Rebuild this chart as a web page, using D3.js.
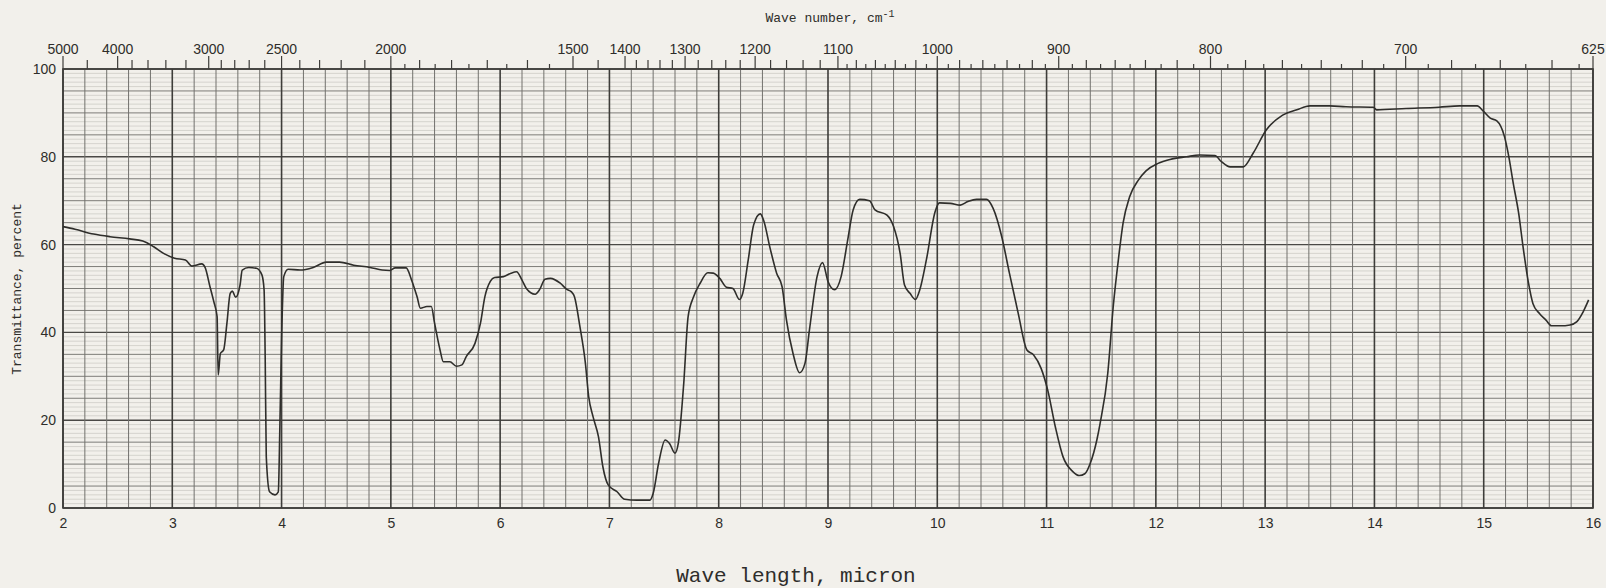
<!DOCTYPE html>
<html>
<head>
<meta charset="utf-8">
<script src="https://cdn.jsdelivr.net/npm/d3@7"></script>
<style>
  html, body { margin: 0; padding: 0; background: #f2f0eb; }
  svg { display: block; }
</style>
</head>
<body>
<svg id="chart" width="1606" height="588"></svg>
<script>
// ---- data ----
const wavelength = [2.00,2.11,2.28,2.43,2.61,2.73,2.83,2.92,3.02,3.12,3.18,3.27,3.30,3.345,3.38,3.41,3.42,3.44,3.47,3.50,3.53,3.55,3.58,3.62,3.64,3.70,3.77,3.82,3.84,3.85,3.86,3.89,3.94,3.97,3.985,4.00,4.02,4.06,4.17,4.29,4.41,4.53,4.66,4.81,4.92,4.99,5.04,5.14,5.19,5.24,5.27,5.33,5.37,5.40,5.45,5.48,5.54,5.60,5.65,5.69,5.77,5.82,5.86,5.91,5.95,6.03,6.10,6.15,6.20,6.24,6.32,6.36,6.41,6.46,6.55,6.61,6.65,6.68,6.73,6.78,6.81,6.85,6.90,6.94,6.99,7.07,7.14,7.25,7.37,7.40,7.45,7.51,7.55,7.60,7.63,7.68,7.72,7.77,7.83,7.90,7.95,8.01,8.07,8.13,8.19,8.22,8.27,8.32,8.38,8.41,8.47,8.53,8.58,8.62,8.68,8.74,8.79,8.83,8.90,8.95,9.00,9.06,9.12,9.18,9.23,9.29,9.38,9.43,9.54,9.60,9.66,9.70,9.75,9.80,9.84,9.90,9.98,10.02,10.12,10.21,10.28,10.36,10.45,10.51,10.59,10.66,10.74,10.82,10.88,10.95,11.01,11.08,11.15,11.24,11.30,11.35,11.40,11.46,11.49,11.56,11.61,11.66,11.70,11.76,11.84,11.91,12.02,12.13,12.28,12.40,12.54,12.60,12.68,12.80,12.89,13.01,13.16,13.29,13.41,13.59,13.74,13.99,14.02,14.29,14.59,14.78,14.94,15.00,15.06,15.12,15.19,15.23,15.27,15.32,15.36,15.41,15.45,15.51,15.57,15.62,15.70,15.79,15.85,15.91,15.96];
const transmittance = [64.1,63.5,62.4,61.8,61.3,60.8,59.5,58.0,56.9,56.5,55.1,55.6,54.8,50.4,47.0,43.6,30.3,35.2,36.0,42.1,48.9,49.4,48.0,50.8,54.2,54.8,54.6,53.1,49.7,34.5,11.7,3.7,3.0,3.7,19.3,38.3,52.7,54.4,54.2,54.8,56.0,56.0,55.3,54.8,54.2,54.1,54.7,54.7,51.9,48.1,45.5,45.9,45.9,42.1,36.0,33.3,33.3,32.3,32.6,34.5,37.5,42.1,48.1,51.6,52.5,52.7,53.5,53.8,51.9,50.0,48.7,49.7,52.1,52.3,51.2,49.8,49.3,48.1,41.3,33.0,25.4,20.8,16.2,9.4,5.2,3.7,2.0,1.8,1.8,3.3,10.2,15.5,14.7,12.5,14.7,28.4,43.6,48.1,51.2,53.6,53.5,52.3,50.3,50.0,47.5,48.9,56.5,64.5,67.0,65.6,59.2,53.5,50.4,42.8,35.2,30.8,33.0,40.5,52.7,55.9,51.6,49.7,52.7,61.0,67.9,70.3,70.0,67.9,66.7,64.1,58.0,50.8,48.9,47.5,49.7,56.5,67.5,69.5,69.4,69.0,69.8,70.3,70.3,68.3,61.8,53.5,44.4,36.0,34.9,31.8,26.9,18.5,11.7,8.3,7.4,7.8,10.2,15.5,19.3,30.7,45.9,57.2,64.9,70.9,74.7,76.8,78.5,79.4,80.0,80.4,80.3,78.9,77.7,77.7,80.8,86.1,89.5,90.7,91.6,91.6,91.4,91.3,90.7,91.0,91.3,91.6,91.6,90.3,88.8,88.2,84.6,80.0,74.0,67.1,59.5,51.2,46.6,44.3,42.8,41.5,41.5,41.7,42.4,44.7,47.4];

const wavelengthTicks = [2,3,4,5,6,7,8,9,10,11,12,13,14,15,16];
const transmittanceTicks = [0,20,40,60,80,100];
const wavenumberLabels = [5000,4000,3000,2500,2000,1500,1400,1300,1200,1100,1000,900,800,700,625];
const wavenumberMedium = [4500,3800,3600,3400,3200,2900,2800,2700,2600,2400,2300,2200,2100,1900,1800,1700,1600,1450,1380,1360,1340,1320,1280,1260,1240,1220,1180,1160,1140,1120,1080,1060,1040,1020,980,960,940,920,880,860,840,820,780,760,740,720,680,660,640];
const wavenumberShort = [1950,1850,1750,1650,1550,1090,1070,1050,1030,1010,990,970,950,930,910,890,870,850,830,810,790,770,750,730,710,690,670,650,630];

// ---- layout ----
const L = 63, R = 1593, T = 69, B = 508;
const svg = d3.select("#chart");
const x = d3.scaleLinear().domain([2, 16]).range([L, R]);
const y = d3.scaleLinear().domain([0, 100]).range([B, T]);
const g = svg.append("g");

// fine horizontal grid (every 1%)
const fineH = d3.range(0, 101, 1).filter(v => v % 5 !== 0);
g.selectAll("line.fh").data(fineH).join("line")
  .attr("x1", L).attr("x2", R)
  .attr("y1", d => y(d)).attr("y2", d => y(d))
  .attr("stroke", "#c9c7c1").attr("stroke-width", 0.7);
// medium horizontal (every 5%)
const midH = d3.range(0, 101, 5).filter(v => v % 20 !== 0);
g.selectAll("line.mh").data(midH).join("line")
  .attr("x1", L).attr("x2", R)
  .attr("y1", d => y(d)).attr("y2", d => y(d))
  .attr("stroke", "#7d7c78").attr("stroke-width", 1);
// major horizontal (every 20%)
g.selectAll("line.Mh").data(d3.range(0, 101, 20)).join("line")
  .attr("x1", L).attr("x2", R)
  .attr("y1", d => y(d)).attr("y2", d => y(d))
  .attr("stroke", "#4a4946").attr("stroke-width", 1.4);
// vertical grid every 0.2 micron
const vLines = d3.range(0, 71).map(i => 2 + i * 0.2);
g.selectAll("line.v").data(vLines).join("line")
  .attr("x1", d => x(d)).attr("x2", d => x(d))
  .attr("y1", T).attr("y2", B)
  .attr("stroke", d => Math.abs(d - Math.round(d)) < 1e-6 ? "#3e3d3a" : "#72716d")
  .attr("stroke-width", d => Math.abs(d - Math.round(d)) < 1e-6 ? 1.6 : 1);
// frame
g.append("rect").attr("x", L).attr("y", T).attr("width", R - L).attr("height", B - T)
  .attr("fill", "none").attr("stroke", "#3e3d3a").attr("stroke-width", 1.6);

// top wavenumber ticks
const wnX = wn => x(1e4 / wn);
const topTicks = [
  ...wavenumberLabels.map(v => ({v, len: 13})),
  ...wavenumberMedium.map(v => ({v, len: 9})),
  ...wavenumberShort.map(v => ({v, len: 5}))
];
g.selectAll("line.tt").data(topTicks).join("line")
  .attr("x1", d => wnX(d.v)).attr("x2", d => wnX(d.v))
  .attr("y1", T).attr("y2", d => T - d.len)
  .attr("stroke", "#3e3d3a").attr("stroke-width", 1.2);
g.selectAll("text.tl").data(wavenumberLabels).join("text")
  .attr("x", d => wnX(d)).attr("y", 54)
  .attr("text-anchor", "middle")
  .attr("font-family", "'Liberation Sans', Arial, sans-serif")
  .attr("font-size", 14).attr("fill", "#2e2d2a")
  .text(d => d);

// bottom axis
const xAxis = d3.axisBottom(x).tickValues(wavelengthTicks).tickSize(0).tickPadding(10).tickFormat(d3.format("d"));
const gx = svg.append("g").attr("transform", `translate(0,${B})`).call(xAxis);
gx.select(".domain").remove();
gx.selectAll("text").attr("font-family", "'Liberation Sans', Arial, sans-serif")
  .attr("font-size", 14).attr("fill", "#2e2d2a");

// left axis
const yAxis = d3.axisLeft(y).tickValues(transmittanceTicks).tickSize(0).tickPadding(7);
const gy = svg.append("g").attr("transform", `translate(${L},0)`).call(yAxis);
gy.select(".domain").remove();
gy.selectAll("text").attr("font-family", "'Liberation Sans', Arial, sans-serif")
  .attr("font-size", 14).attr("fill", "#2e2d2a");

// spectrum curve
const pts = wavelength.map((w, i) => [w, transmittance[i]]);
const line = d3.line().x(d => x(d[0])).y(d => y(d[1])).curve(d3.curveMonotoneX);
svg.append("path").datum(pts).attr("d", line)
  .attr("fill", "none").attr("stroke", "#2f2e2b").attr("stroke-width", 1.6)
  .attr("stroke-linejoin", "round");

// titles
const mono = "'Liberation Mono', 'DejaVu Sans Mono', monospace";
const topTitle = svg.append("text").attr("x", 830).attr("y", 22)
  .attr("text-anchor", "middle").attr("font-family", mono).attr("font-size", 13).attr("fill", "#2e2d2a");
topTitle.append("tspan").text("Wave number, cm");
topTitle.append("tspan").attr("dy", -5).attr("font-size", 10).text("-1");

svg.append("text").attr("transform", "translate(21,289) rotate(-90)")
  .attr("text-anchor", "middle").attr("font-family", mono).attr("font-size", 13).attr("fill", "#2e2d2a")
  .text("Transmittance, percent");

svg.append("text").attr("x", 796).attr("y", 582)
  .attr("text-anchor", "middle").attr("font-family", mono).attr("font-size", 21).attr("fill", "#2e2d2a")
  .text("Wave length, micron");
</script>
</body>
</html>
